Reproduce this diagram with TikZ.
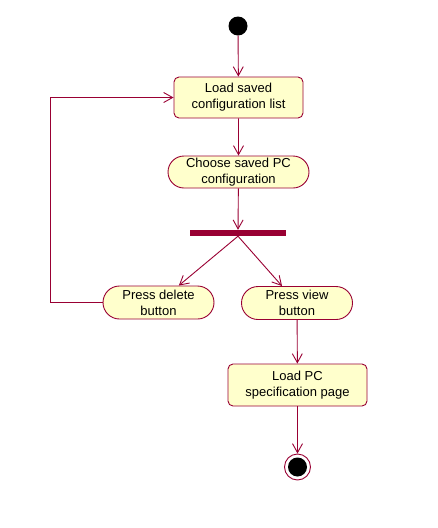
\documentclass[tikz,border=0pt]{standalone}
\usepackage{fontspec}
\setmainfont{Liberation Sans}
\usepackage{tikz}
\usetikzlibrary{arrows.meta,shapes.misc}
\definecolor{roseline}{HTML}{990033}
\definecolor{rosefill}{HTML}{FFFFCC}
\tikzset{
  activity/.style={draw=roseline,fill=rosefill,line width=0.9pt,rounded corners=5pt,
    align=center,inner sep=0pt,font=\fontsize{13}{16}\selectfont},
  pill/.style={activity,rounded rectangle,rounded corners=0pt},
  flow/.style={draw=roseline,line width=0.9pt,-{Straight Barb[length=9pt,width=10pt]}}
}

\begin{document}
\begin{tikzpicture}[x=1pt,y=-1pt]
                      \useasboundingbox (0,0) rectangle (437,528);
                      \node[circle,fill=black,minimum size=19pt,inner sep=0pt] (start) at (238,26) {};
                      \node[activity,minimum width=129pt,minimum height=41pt] (loadlist) at (238.5,97.5) {Load saved\\configuration list};
                      \node[pill,minimum width=141pt,minimum height=32pt] (choose) at (238.5,172) {Choose saved PC\\configuration};
                      \node[fill=roseline,minimum width=96pt,minimum height=6pt,inner sep=0pt] (fork) at (238,233) {};
                      \node[pill,minimum width=111pt,minimum height=33pt] (delete) at (158.5,302.5) {Press delete\\button};
                      \node[pill,minimum width=111pt,minimum height=33pt] (view) at (297,303) {Press view\\button};
                      \node[activity,minimum width=139pt,minimum height=42pt] (loadpc) at (297.5,385) {Load PC\\specification page};
                      \node[circle,draw=roseline,line width=0.9pt,fill=white,minimum size=26pt,inner sep=0pt] (stop) at (297.5,467) {};
                      \fill (stop.center) circle (9.5pt);
                      \coordinate (loopcorner) at (50,302.5);
                      \draw[flow] (start) -- (loadlist);
                      \draw[flow] (loadlist) -- (choose);
                      \draw[flow] (choose) -- (fork);
                      \draw[flow] (fork.south) -- (delete);
                      \draw[flow] (fork.south) -- (view);
                      \draw[flow] (delete.west) -- (loopcorner) |- (loadlist.west);
                      \draw[flow] (view) -- (loadpc);
                      \draw[flow] (loadpc) -- (stop);
                  \end{tikzpicture}
\end{document}
